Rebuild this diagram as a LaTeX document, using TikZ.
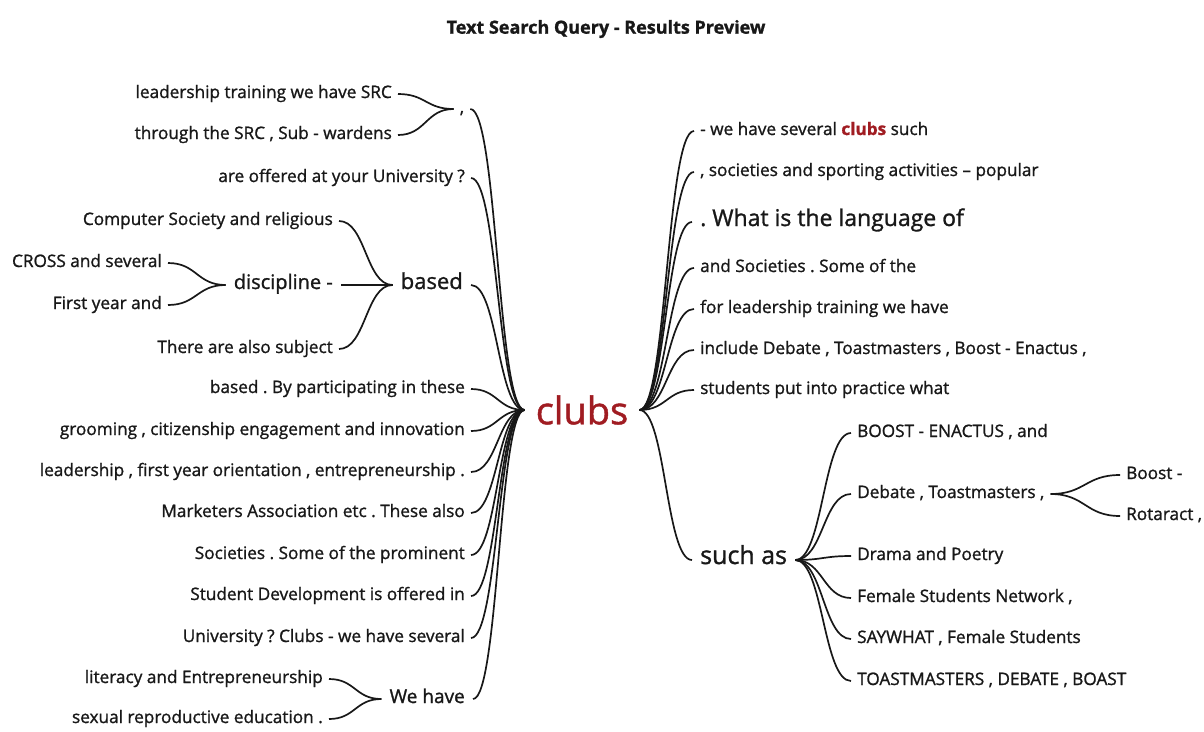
\documentclass[tikz,border=0pt]{standalone}
\usepackage{fontspec}
\setmainfont{Open Sans}[FakeBold=1.2]
\usetikzlibrary{calc}

\definecolor{clubred}{RGB}{160,28,34}
\definecolor{ink}{RGB}{24,24,24}

\tikzset{
  word/.style={inner xsep=6pt, inner ysep=0pt, text=ink,
    text height=0.9em, text depth=0.1em, font=\fontsize{17.2}{19}\selectfont},
  bigword/.style={word, inner xsep=8pt, font=\fontsize{#1}{#1}\selectfont},
  branch/.style={draw=ink, line width=1.7pt},
}

% s-shaped branch between two anchors, flat at both ends
\newcommand\wordlink[2]{%
  \draw[branch] let \p1=(#1), \p2=(#2) in
    (\p1) .. controls ({(\x1+\x2)/2},\y1) and ({(\x1+\x2)/2},\y2) .. (\p2);}

\begin{document}
\frenchspacing
\begin{tikzpicture}[x=1pt,y=-1pt]
\useasboundingbox (0,0) rectangle (1204,731);

\node[font=\fontsize{18}{20}\bfseries, text=ink] (title) at (606,29) {Text Search Query - Results Preview};

% root word
\node[inner xsep=11pt, inner ysep=0pt, text=clubred, font=\fontsize{38}{38}\selectfont] (clubs) at (582,410) {clubs};

% left side, words before "clubs"
\node[word] (comma) at (462,109) {,};
\node[word, anchor=east] (src1) at (398,94) {leadership training we have SRC};
\node[word, anchor=east] (src2) at (398,135) {through the SRC , Sub - wardens};
\wordlink{src1.east}{comma.west}
\wordlink{src2.east}{comma.west}

\node[bigword=22, anchor=east] (based) at (471,285) {based};
\node[word, anchor=east] (comp) at (339,221) {Computer Society and religious};
\node[bigword=20, anchor=east] (disc) at (341,285) {discipline -};
\node[word, anchor=east] (subj) at (339,349) {There are also subject};
\node[word, anchor=east] (cross) at (168,263) {CROSS and several};
\node[word, anchor=east] (first) at (168,305) {First year and};
\foreach \nm in {comp,disc,subj} {\wordlink{\nm.east}{based.west}}
\foreach \nm in {cross,first} {\wordlink{\nm.east}{disc.west}}

\node[bigword=19, anchor=east] (wehave) at (473,699) {We have};
\node[word, anchor=east] (lit) at (329,679) {literacy and Entrepreneurship};
\node[word, anchor=east] (sex) at (329,719) {sexual reproductive education .};
\wordlink{lit.east}{wehave.west}
\wordlink{sex.east}{wehave.west}

\foreach \nm/\yy/\txt in {
    offer/178/{are offered at your University ?},
    part/389/{based . By participating in these},
    groom/431/{grooming , citizenship engagement and innovation},
    orient/472/{leadership , first year orientation , entrepreneurship .},
    market/513/{Marketers Association etc . These also},
    prom/555/{Societies . Some of the prominent},
    devel/596/{Student Development is offered in},
    sev/638/{University ? Clubs - we have several}}
  \node[word, anchor=east] (\nm) at (471,\yy) {\txt};

\foreach \nm in {comma,offer,based,part,groom,orient,market,prom,devel,sev,wehave}
  {\wordlink{\nm.east}{clubs.west}}

% right side, words after "clubs"
\foreach \nm/\yy/\txt in {
    such/131/{- we have several \textcolor{clubred}{\textbf{clubs}} such},
    sport/172/{, societies and sporting activities -- popular},
    some/268/{and Societies . Some of the},
    lead/309/{for leadership training we have},
    incl/350/{include Debate , Toastmasters , Boost - Enactus ,},
    prac/390/{students put into practice what}}
  \node[word, anchor=west] (\nm) at (694,\yy) {\txt};
\node[bigword=23, anchor=west] (lang) at (692,222) {. What is the language of};
\node[bigword=25, anchor=west] (suchas) at (692,560) {such as};
\foreach \nm in {such,sport,lang,some,lead,incl,prac,suchas}
  {\wordlink{clubs.east}{\nm.west}}

\foreach \nm/\yy/\txt in {
    boost/433/{BOOST - ENACTUS , and},
    debate/494/{Debate , Toastmasters ,},
    drama/556/{Drama and Poetry},
    fsn/598/{Female Students Network ,},
    saywhat/639/{SAYWHAT , Female Students},
    toast/681/{TOASTMASTERS , DEBATE , BOAST}}
  \node[word, anchor=west] (\nm) at (851,\yy) {\txt};
\foreach \nm in {boost,debate,drama,fsn,saywhat,toast}
  {\wordlink{suchas.east}{\nm.west}}

\node[word, anchor=west] (boost2) at (1120,475) {Boost -};
\node[word, anchor=west] (rot) at (1120,516) {Rotaract ,};
\wordlink{debate.east}{boost2.west}
\wordlink{debate.east}{rot.west}
\end{tikzpicture}
\end{document}
